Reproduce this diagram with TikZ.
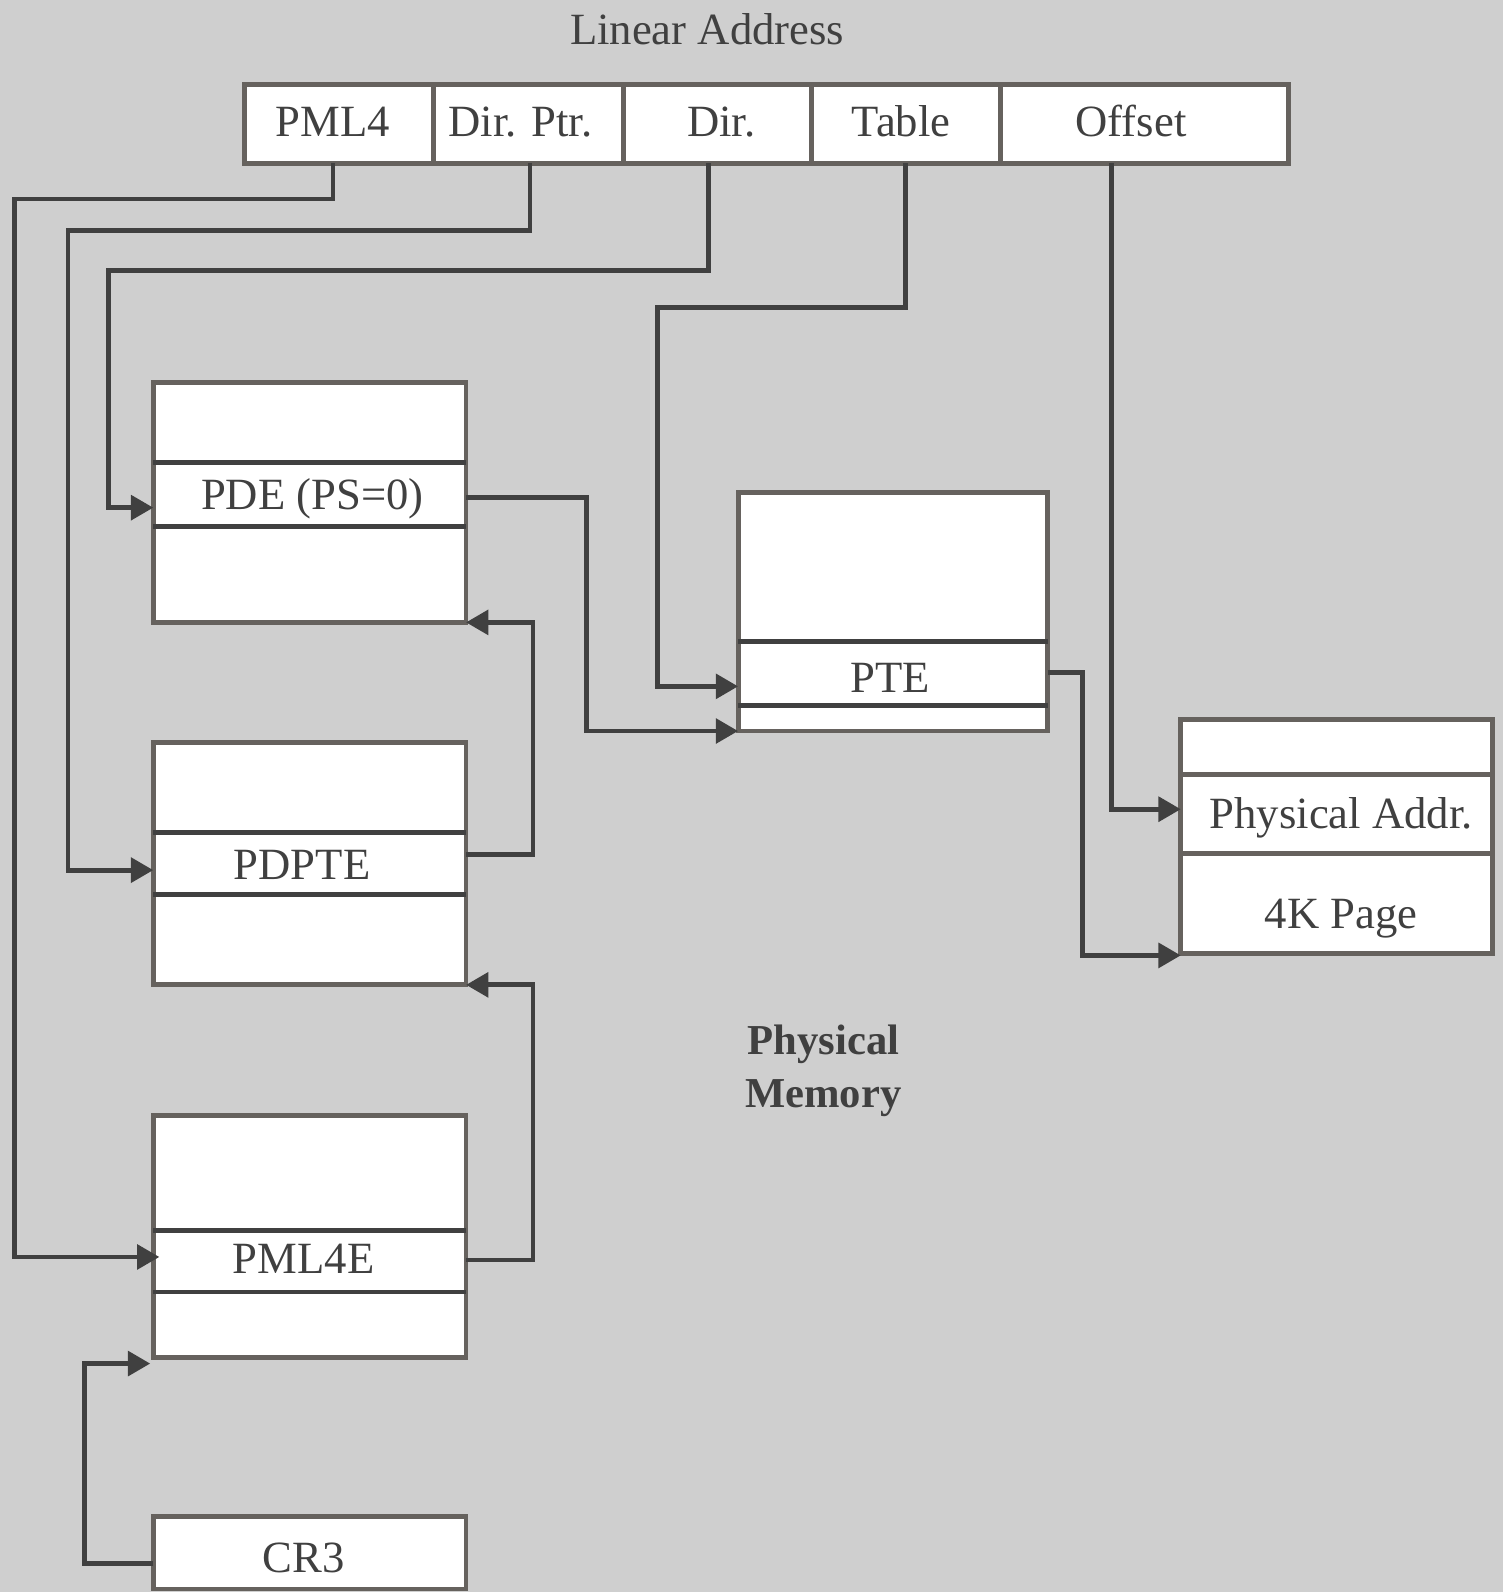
\documentclass[tikz,border=0pt]{standalone}
\usepackage{fontspec}
\setmainfont{Liberation Serif}
\usetikzlibrary{arrows.meta,calc}
\definecolor{bg}{RGB}{207,207,207}
\definecolor{bord}{RGB}{102,98,94}
\definecolor{ink}{RGB}{64,64,64}
\begin{document}
\begin{tikzpicture}[x=1pt,y=-1pt,
  box/.style={draw=bord,line width=4.8pt,fill=white,rectangle,inner sep=0pt,outer sep=0pt},
  sepline/.style={draw=ink,line width=4.8pt},
  conn/.style={draw=ink,line width=4.8pt,-{Triangle[length=22pt,width=24pt]}},
  lbl/.style={inner sep=0pt,anchor=base,text=ink,font=\fontsize{44}{50}\selectfont},
  blbl/.style={inner sep=0pt,anchor=base,text=ink,font=\fontsize{42}{50}\selectfont\bfseries}]
\fill[bg] (0,0) rectangle (1480,1568);
\useasboundingbox (0,0) rectangle (1480,1568);

% address fields
\node[box,minimum width=186,minimum height=78] (pml4f) at (334,122) {};
\node[box,minimum width=187,minimum height=78] (dptrf) at (520.5,122) {};
\node[box,minimum width=185,minimum height=78] (dirf) at (706.5,122) {};
\node[box,minimum width=186,minimum height=78] (tablef) at (892,122) {};
\node[box,minimum width=284,minimum height=78] (offf) at (1127,122) {};

% memory tables
\node[box,minimum width=308,minimum height=236] (pde) at (305,495) {};
\node[box,minimum width=308,minimum height=239] (pdpte) at (305,850.5) {};
\node[box,minimum width=308,minimum height=238] (pml4e) at (305,1218) {};
\node[box,minimum width=308,minimum height=71] (cr3) at (305,1529.5) {};
\node[box,minimum width=305,minimum height=235] (pte) at (879.5,602.5) {};
\node[box,minimum width=307,minimum height=230] (phys) at (1316.5,824) {};

% separators
\draw[sepline] ($(pde.north west)+(0,78.4)$) -- ($(pde.north east)+(0,78.4)$);
\draw[sepline] ($(pde.north west)+(0,141.5)$) -- ($(pde.north east)+(0,141.5)$);
\draw[sepline] ($(pdpte.north west)+(0,89)$) -- ($(pdpte.north east)+(0,89)$);
\draw[sepline] ($(pdpte.north west)+(0,150)$) -- ($(pdpte.north east)+(0,150)$);
\draw[sepline] ($(pml4e.north west)+(0,113)$) -- ($(pml4e.north east)+(0,113)$);
\draw[sepline] ($(pml4e.north west)+(0,173.5)$) -- ($(pml4e.north east)+(0,173.5)$);
\draw[sepline] ($(pte.north west)+(0,147)$) -- ($(pte.north east)+(0,147)$);
\draw[sepline] ($(pte.north west)+(0,209.5)$) -- ($(pte.north east)+(0,209.5)$);
\draw[sepline,draw=bord] ($(phys.north west)+(0,54)$) -- ($(phys.north east)+(0,54)$);
\draw[sepline,draw=bord] ($(phys.north west)+(0,132)$) -- ($(phys.north east)+(0,132)$);

% turning points
\coordinate (t1) at (14,196);
\coordinate (t2) at (67,227);
\coordinate (t3) at (107,266);
\coordinate (t4) at (648,303);
\coordinate (t6) at (578,720);
\coordinate (t7) at (1066,941);
\coordinate (t8) at (525,613);
\coordinate (t9) at (525,970);
\coordinate (t10) at (83,1343);

% connectors
\draw[conn] ($(pml4f.south)+(-6,0)$) |- (t1) |- ($(pml4e.north west)+(6,139)$);
\draw[conn] ($(dptrf.south)+(1.5,0)$) |- (t2) |- ($(pdpte.north west)+(0,126)$);
\draw[conn] ($(dirf.south)+(-8.5,0)$) |- (t3) |- ($(pde.north west)+(0,123)$);
\draw[conn] (tablef.south) |- (t4) |- ($(pte.north west)+(0,191)$);
\draw[conn] ($(offf.south)+(-32,0)$) |- ($(phys.north west)+(0,88)$);
\draw[conn] ($(pde.east)+(0,-5)$) -| (t6) -- (pte.south west);
\draw[conn] ($(pte.east)+(0,59.5)$) -| (t7) -- ($(phys.south west)+(0,2)$);
\draw[conn] ($(pdpte.east)+(0,-8.5)$) -| (t8) -- (pde.south east);
\draw[conn] ($(pml4e.east)+(0,23)$) -| (t9) -- (pdpte.south east);
\draw[conn] ($(cr3.west)+(0,10.5)$) -| (t10) -- ($(pml4e.south west)+(-3,6)$);

% labels
\node[lbl] (lin) at (696.5,44) {Linear Address};
\node[lbl] (lpml4) at (328,134.5) {PML4};
\node[lbl] (ldptr) at (512.5,134.5) {Dir. Ptr.};
\node[lbl] (ldir) at (710.5,134.5) {Dir.};
\node[lbl] (ltable) at (887.5,134.5) {Table};
\node[lbl] (loff) at (1114,134.5) {Offset};
\node[lbl] (lpde) at (307.7,501.5) {PDE (PS=0)};
\node[lbl] (lpdpte) at (297.5,866) {PDPTE};
\node[lbl] (lpml4e) at (299,1254.5) {PML4E};
\node[lbl] (lcr3) at (299,1549) {CR3};
\node[lbl] (lpte) at (877,681.7) {PTE};
\node[lbl] (lpa) at (1321,815.7) {Physical Addr.};
\node[lbl] (l4k) at (1321,914) {4K Page};
\node[blbl] (lmem1) at (811,1039) {Physical};
\node[blbl] (lmem2) at (811,1091) {Memory};
\end{tikzpicture}
\end{document}
